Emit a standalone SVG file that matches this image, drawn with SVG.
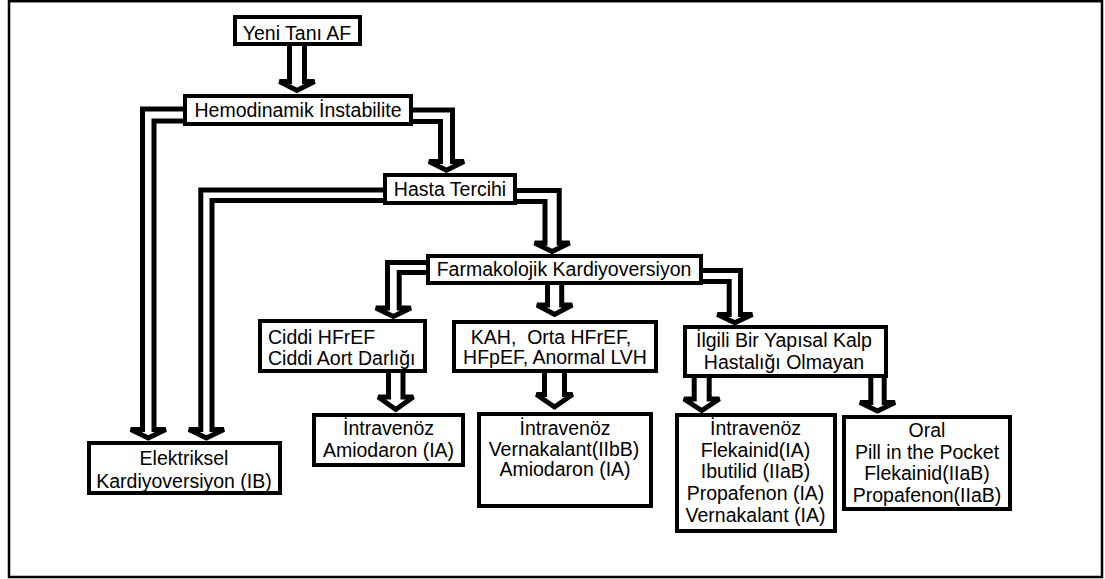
<svg xmlns="http://www.w3.org/2000/svg" width="1105" height="579" viewBox="0 0 1105 579">
<style>
.frame{fill:none;stroke:#000;stroke-width:2.5}
.box{fill:#fff;stroke:#000;stroke-width:4}
.conn{fill:#fff;stroke:#000;stroke-width:5;stroke-linejoin:miter;stroke-miterlimit:2}
text{font-family:"Liberation Sans",Arial,sans-serif;font-size:19.5px;fill:#000}
.c{text-anchor:middle}
</style>
<rect width="1105" height="579" fill="#fff"/>
<rect class="frame" x="9" y="1.2" width="1093" height="575.8"/>
<g id="connectors">
<path class="conn" d="M289.5,44 V81.5 H279.5 L297,90.5 L314.5,81.5 H304.5 V44"/>
<path class="conn" d="M185,109 H142.5 V429.5 H130.75 L148.25,438 L165.75,429.5 H154 V121 H185"/>
<path class="conn" d="M411,110 H452.5 V161.5 H464 L446.5,170.2 L429,161.5 H440.5 V121.5 H411"/>
<path class="conn" d="M385,190 H200.8 V429.5 H188.9 L206.4,438 L223.9,429.5 H212 V200.5 H385"/>
<path class="conn" d="M515,190.5 H559.2 V243 H569.6 L552.1,251.5 L534.6,243 H545 V201.5 H515"/>
<path class="conn" d="M428,262.5 H387.5 V308 H375.85 L393.35,316.5 L410.85,308 H399.2 V272.5 H428"/>
<path class="conn" d="M547.5,284 V305 H537 L554.6,314.5 L572.2,305 H561.7 V284"/>
<path class="conn" d="M701,270.5 H740.5 V314.5 H752.35 L734.85,322.8 L717.35,314.5 H729.2 V281.5 H701"/>
<path class="conn" d="M388.5,371 V397 H378.25 L395.75,409.5 L413.25,397 H403 V371"/>
<path class="conn" d="M544.5,371 V394.5 H536.5 L554.5,407 L572.5,394.5 H564.5 V371"/>
<path class="conn" d="M694.2,376 V399 H684 L701.7,410.5 L719.4,399 H709.2 V376"/>
<path class="conn" d="M870.8,376 V402.5 H860 L877.5,411 L895,402.5 H884.2 V376"/>
</g>
<g id="yeni"><rect class="box" x="235" y="17" width="125" height="27"/><text class="c" x="297" y="39.5">Yeni Tanı AF</text></g>
<g id="hemodinamik"><rect class="box" x="185" y="96" width="226" height="28"/><text class="c" x="298" y="117">Hemodinamik İnstabilite</text></g>
<g id="hasta"><rect class="box" x="385" y="175" width="130" height="28"/><text class="c" x="450" y="195.5">Hasta Tercihi</text></g>
<g id="farmakolojik"><rect class="box" x="428" y="256" width="273" height="27"/><text class="c" x="564" y="275.5">Farmakolojik Kardiyoversiyon</text></g>
<g id="ciddi"><rect class="box" x="260" y="321" width="165" height="50"/><text x="268" y="344">Ciddi HFrEF</text><text x="268" y="365">Ciddi Aort Darlığı</text></g>
<g id="kah"><rect class="box" x="454" y="322" width="202" height="49"/><text class="c" x="551" y="343.5" style="white-space:pre">KAH,  Orta HFrEF,</text><text class="c" x="555" y="363.5">HFpEF, Anormal LVH</text></g>
<g id="ilgili"><rect class="box" x="685" y="327" width="201" height="49"/><text class="c" x="784" y="347">İlgili Bir Yapısal Kalp</text><text class="c" x="784" y="368.5">Hastalığı Olmayan</text></g>
<g id="elektriksel"><rect class="box" x="89" y="443" width="191" height="50"/><text class="c" x="184" y="464.5">Elektriksel</text><text class="c" x="184" y="488">Kardiyoversiyon (IB)</text></g>
<g id="amiodaron"><rect class="box" x="314" y="415" width="149" height="50"/><text class="c" x="388.5" y="435">İntravenöz</text><text class="c" x="388.5" y="456.5">Amiodaron (IA)</text></g>
<g id="vernakalant"><rect class="box" x="479" y="414" width="172" height="92"/><text class="c" x="565" y="435">İntravenöz</text><text class="c" x="564" y="455.5">Vernakalant(IIbB)</text><text class="c" x="565" y="476">Amiodaron (IA)</text></g>
<g id="intravenoz"><rect class="box" x="677" y="415" width="158" height="116"/><text class="c" x="755.5" y="435">İntravenöz</text><text class="c" x="755.5" y="456.5">Flekainid(IA)</text><text class="c" x="755.5" y="478">Ibutilid (IIaB)</text><text class="c" x="755.5" y="500">Propafenon (IA)</text><text class="c" x="755.5" y="521.5">Vernakalant (IA)</text></g>
<g id="oral"><rect class="box" x="844" y="417" width="166" height="92"/><text class="c" x="927" y="436.5">Oral</text><text class="c" x="927" y="458.5">Pill in the Pocket</text><text class="c" x="927" y="480">Flekainid(IIaB)</text><text class="c" x="927" y="501.5">Propafenon(IIaB)</text></g>
</svg>
